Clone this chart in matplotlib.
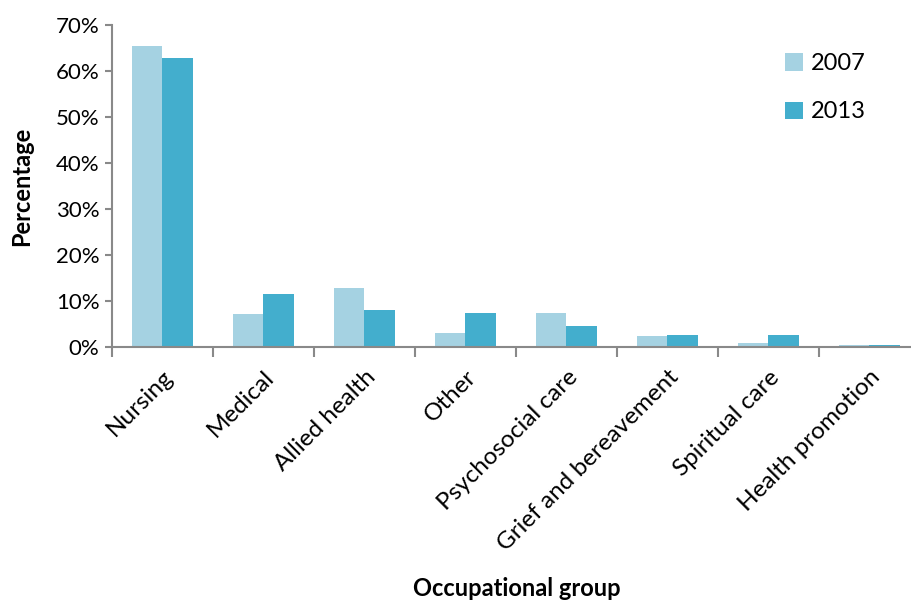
import matplotlib.pyplot as plt
import numpy as np
from matplotlib.ticker import PercentFormatter

plt.rcParams['font.family'] = ['Lato', 'DejaVu Sans']

# Data (percent of workforce by occupational group)
groups = ["Nursing", "Medical", "Allied health", "Other", "Psychosocial care",
          "Grief and bereavement", "Spiritual care", "Health promotion"]
years = ["2007", "2013"]
pct_2007 = [65.4, 7.1, 12.8, 3.1, 7.5, 2.3, 0.9, 0.45]
pct_2013 = [62.8, 11.5, 8.0, 7.5, 4.5, 2.7, 2.6, 0.5]

colors = ["#A5D2E2", "#43AECD"]
axis_grey = "#898989"

fig = plt.figure(figsize=(9.12, 6.03), dpi=100)
# axes runs a little past the right edge of the picture, as in the original
ax = fig.add_axes([112 / 912, 1 - 347 / 603, 808 / 912, 322 / 603])

x = np.arange(len(groups))
w = 0.3
ax.bar(x - w / 2, pct_2007, w, color=colors[0], label=years[0])
ax.bar(x + w / 2, pct_2013, w, color=colors[1], label=years[1])

ax.set_xlim(-0.5, len(groups) - 0.5)
ax.set_ylim(0, 70)
ax.set_yticks(np.arange(0, 71, 10))
ax.yaxis.set_major_formatter(PercentFormatter(decimals=0))

# category ticks sit on the boundaries between groups
ax.set_xticks(np.arange(-0.5, len(groups) + 0.5, 1))
ax.set_xticklabels([])
ax.set_xticks(x, minor=True)
ax.set_xticklabels(groups, minor=True, rotation=45, ha="right",
                   rotation_mode="anchor", fontsize=17.5)
ax.tick_params(axis="x", which="minor", length=0, pad=14)
ax.tick_params(axis="x", which="major", length=7, width=1.5, color=axis_grey)
ax.tick_params(axis="y", length=5, width=1.5, color=axis_grey, labelsize=16, pad=4)

for side in ["top", "right"]:
    ax.spines[side].set_visible(False)
for side in ["left", "bottom"]:
    ax.spines[side].set_color(axis_grey)
    ax.spines[side].set_linewidth(1.5)

ax.set_ylabel("Percentage", fontsize=17, fontweight="bold", labelpad=16)
fig.text(517 / 912, 1 - 588 / 603, "Occupational group", fontsize=17,
         fontweight="bold", ha="center", va="center")

ax.legend(loc="upper left", bbox_to_anchor=(764 / 912, 1 - 32 / 603),
          bbox_transform=fig.transFigure, frameon=False, fontsize=17,
          handlelength=0.75, handleheight=0.75, handletextpad=0.35,
          labelspacing=1.15)

fig.savefig("out.png", dpi=100)
